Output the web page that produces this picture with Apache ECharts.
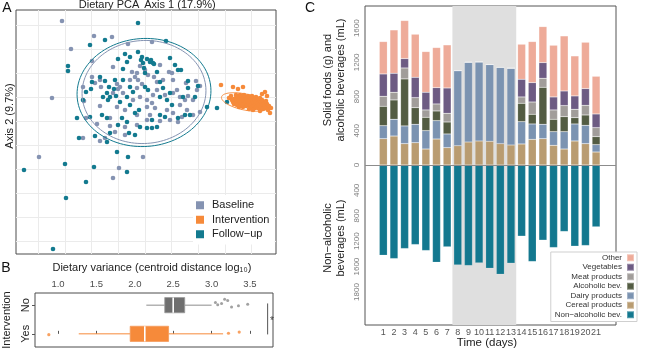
<!DOCTYPE html>
<html><head><meta charset="utf-8">
<script src="https://cdn.jsdelivr.net/npm/echarts@6/dist/echarts.min.js"></script>
<style>html,body{margin:0;padding:0;background:#fff}#c{width:650px;height:351px}</style>
</head><body><div id="c"></div>
<script>
// ---------- Panel A: dietary PCA (unlabelled axes, arbitrary units) ----------
const pcaBaseline = [[-83,100],[-51,85],[-33,84],[-74,72],[-53,60],[-53,44],[-44,34],[-62,34],[7,79],[-17,77],[-5,55],[-32,54],[-13,49],[-8,48],[3,46],[24,49],[27,48],[51,40],[55,35],[-93,23],[-61,20],[-48,-3],[-62,-17],[-45,-20],[-40,-17],[-106,-36],[-2,-36],[-26,-47],[-32,-57],[-50,38],[-45,41],[-25,34],[-28,37],[-10,44],[-7,41],[9,44],[12,39],[18,41],[28,41],[35,24],[41,38],[43,25],[48,21],[52,31],[-32,28],[-27,32],[-22,28],[-8,33],[-5,24],[2,21],[8,26],[12,31],[28,28],[32,31],[40,21],[-45,15],[-28,14],[-20,11],[2,14],[7,18],[10,13],[35,16],[42,11],[-35,-5],[-30,-11],[-20,-6],[-8,6],[2,1],[22,11],[28,8],[37,4],[48,6],[-20,-14],[-8,-4],[15,0],[33,-1],[-35,3],[-3,37],[0,51],[15,56],[-15,41],[20,26],[-12,21],[5,6],[25,1],[-59,3],[55,9]];
const pcaFollowUp = [[-7,98],[-40,81],[-55,76],[21,80],[-77,55],[-77,50],[-53,39],[-45,44],[-40,40],[-54,32],[-59,29],[-36,34],[-31,32],[-38,28],[-42,24],[-30,41],[-20,67],[-15,64],[-27,62],[-7,69],[-3,64],[-4,61],[-2,58],[6,61],[8,58],[25,63],[-22,52],[-1,53],[0,48],[12,49],[33,51],[30,56],[36,51],[43,40],[53,35],[-18,59],[2,62],[5,59],[9,57],[-62,21],[-37,21],[-35,24],[-29,25],[-18,24],[-12,29],[-15,34],[0,34],[3,31],[15,24],[18,33],[22,21],[25,28],[38,24],[43,33],[62,14],[72,13],[-68,3],[-55,4],[-43,6],[-38,3],[-25,19],[-23,3],[-18,-1],[-15,16],[-10,8],[-5,-6],[7,1],[12,-6],[15,6],[20,4],[33,3],[40,6],[45,6],[2,-7],[7,-7],[-16,-12],[-10,-14],[-66,-17],[-50,-15],[-38,-21],[-35,-12],[-28,-31],[-17,-36],[-121,-49],[-80,-43],[-51,-46],[-18,-51],[-59,-61],[-79,-77],[-92,-128],[82,19],[-6,11],[27,16],[-27,-4],[50,24],[15,39],[-22,41]];
const pcaIntervention = [[76,36],[88,34],[93,32],[98,34],[120,29],[117,27],[125,8],[115,10],[84,23],[122,25],[85,23],[87,21],[88,19],[89,22],[90,20],[91,18],[91,23],[92,21],[93,19],[93,24],[94,22],[94,17],[95,20],[95,23],[96,18],[96,21],[97,24],[97,19],[98,22],[98,17],[99,20],[99,23],[100,18],[100,21],[101,24],[101,19],[102,17],[102,22],[103,20],[103,16],[104,23],[104,18],[105,21],[105,15],[106,19],[106,22],[107,17],[107,14],[108,20],[108,23],[109,18],[109,15],[110,21],[110,13],[111,17],[111,19],[112,15],[112,22],[113,18],[113,13],[114,16],[115,20],[116,14],[117,17],[118,12],[119,18],[120,15],[121,13],[122,17],[123,11],[89,17],[92,16],[95,26],[99,26],[103,25],[107,25],[111,24],[115,23],[91,26],[86,25],[101,15],[98,14],[104,12],[108,11],[97,16],[94,14],[117,21],[121,20],[124,15],[126,13]];
// ellipse: [centerX, centerY, radiusX, radiusY, angleDeg]
const ellipseBaseline = [-1, 29, 62, 51.5, 4];
const ellipseFollowUp = [-1, 28.5, 67, 54, 4];
const ellipseIntervention = [100, 19, 24, 8, -12];

// ---------- Panel B: dietary variance ----------
const groupsB = ['Yes', 'No'];
const boxNo  = [2.15, 2.39, 2.50, 2.65, 3.00];   // min, q1, median, q3, max
const boxYes = [1.27, 1.94, 2.13, 2.44, 3.15];
const outliersNoX = [3.05, 3.08, 3.13, 3.17, 3.21, 3.26, 3.35, 3.47];
const outliersNoJitter = [1.09, 1.01, 1.06, 1.21, 1.16, 0.94, 0.98, 1.03];
const outliersYesX = [0.88, 3.22, 3.36];
const outliersYesJitter = [-0.03, 0.02, 0.06];
const varianceTicks = [1.0, 1.5, 2.0, 2.5, 3.0, 3.5];
const signifX = 3.73;

// ---------- Panel C: daily intake ----------
const days = ['1','2','3','4','5','6','7','8','9','10','11','12','13','14','15','16','17','18','19','20','21'];
const cereal     = [308,339,250,261,187,304,203,226,269,281,277,250,234,246,300,308,230,187,281,250,152];
const dairy      = [152,196,207,215,215,215,160,878,933,925,898,893,898,261,180,168,160,203,199,214,86];
const alcoholic  = [227,226,550,195,156,113,140,0,0,0,0,0,0,215,113,433,145,176,74,121,94];
const meat       = [117,90,128,117,86,82,102,0,0,0,0,0,0,74,144,106,109,129,98,113,105];
const vegetables = [261,222,110,238,207,191,296,0,0,0,0,0,0,207,227,183,152,171,156,196,160];
const other      = [379,507,445,504,476,469,504,0,0,0,0,0,0,410,480,421,605,644,468,542,441];
const nonAlcoholic = [1421,1474,1316,1253,1347,1532,1289,1574,1584,1542,1626,1721,1547,1121,1521,1184,1300,1047,1279,1268,974];
const interventionPeriod = [7.5, 13.5];   // in day units
const upperTicks = [0, 400, 800, 1200, 1600];
const lowerTicks = [400, 800, 1200, 1600, 2000];
const lowerTickLabels = ['400', '800', '1200', '1600', '1800'];

// ---------- styling ----------
const FONT = 'Liberation Sans, Arial, sans-serif';
const colBase = '#8593b2', colInt = '#f68a3a', colFol = '#137a8f';
const catColors = {
  'Other': '#eeab99', 'Vegetables': '#6d5b83', 'Meat products': '#a19d9a',
  'Alcoholic bev.': '#535c43', 'Dairy products': '#7b93b1', 'Cereal products': '#b99c71',
  'Non−alcoholic bev.': '#13788f'
};

function ellipseRender(params, api) {
  const cx = api.value(0), cy = api.value(1), rx = api.value(2), ry = api.value(3);
  const a = api.value(4) * Math.PI / 180;
  const pts = [];
  for (let i = 0; i <= 120; i++) {
    const t = i / 120 * 2 * Math.PI;
    const x = cx + rx * Math.cos(t) * Math.cos(a) - ry * Math.sin(t) * Math.sin(a);
    const y = cy + rx * Math.cos(t) * Math.sin(a) + ry * Math.sin(t) * Math.cos(a);
    pts.push(api.coord([x, y]));
  }
  return { type: 'polyline', shape: { points: pts }, style: { fill: null, stroke: api.visual('color'), lineWidth: 1 } };
}

const boxStyles = [
  { fill: colInt, stroke: '#f49a5a', whisker: colInt },
  { fill: '#6f6f6f', stroke: '#999999', whisker: '#8c8c8c' }
];
function boxRender(params, api) {
  const y = api.value(0);
  const p = [1,2,3,4,5].map(k => api.coord([api.value(k), y]));
  const h = 7.6;
  const s = boxStyles[params.dataIndex];
  return { type: 'group', children: [
    { type: 'line', shape: { x1: p[0][0], y1: p[0][1], x2: p[1][0], y2: p[1][1] }, style: { stroke: s.whisker, lineWidth: 1 } },
    { type: 'line', shape: { x1: p[3][0], y1: p[3][1], x2: p[4][0], y2: p[4][1] }, style: { stroke: s.whisker, lineWidth: 1 } },
    { type: 'rect', shape: { x: p[1][0], y: p[1][1] - h, width: p[3][0] - p[1][0], height: 2 * h }, style: { fill: s.fill, stroke: s.stroke, lineWidth: 0.8 } },
    { type: 'line', shape: { x1: p[2][0], y1: p[2][1] - h, x2: p[2][0], y2: p[2][1] + h }, style: { stroke: '#ffffff', lineWidth: 1.6 } }
  ]};
}

const hidden = { show: false };
const chart = echarts.init(document.getElementById('c'), null, { renderer: 'canvas' });

const upperOrder = [
  ['Cereal products', cereal], ['Dairy products', dairy], ['Alcoholic bev.', alcoholic],
  ['Meat products', meat], ['Vegetables', vegetables], ['Other', other]
];
const upperSeries = upperOrder.map(([name, arr]) => ({
  name, type: 'bar', xAxisIndex: 2, yAxisIndex: 2, stack: 'solid', barWidth: 8,
  itemStyle: { color: catColors[name], borderColor: 'rgba(255,255,255,0.3)', borderWidth: 0.5 },
  data: arr
}));

const option = {
  animation: false,
  backgroundColor: '#fff',
  textStyle: { fontFamily: FONT },
  grid: [
    { left: 16, top: 10, width: 260, height: 244, show: true, borderColor: '#4d4d4d', borderWidth: 1, backgroundColor: 'transparent' },
    { left: 35, top: 293, width: 238, height: 54, show: true, borderColor: '#4d4d4d', borderWidth: 1, backgroundColor: 'transparent' },
    { left: 378, top: 6, width: 223.4, height: 159, show: false },
    { left: 378, top: 165, width: 223.4, height: 160, show: false },
    { left: 365, top: 6, width: 251, height: 319, show: true, borderColor: '#555', borderWidth: 1, backgroundColor: 'transparent' }
  ],
  xAxis: [
    { gridIndex: 0, type: 'value', min: -129, max: 131, axisLine: hidden, axisLabel: hidden,
      axisTick: { show: false, customValues: [-106.7, -80, -53.3, -26.7, 0, 26.7, 53.3, 80, 106.7] },
      splitLine: { show: true, lineStyle: { color: '#ebebeb', width: 1 } } },
    { gridIndex: 1, type: 'value', position: 'top', min: 0.70, max: 3.80, axisLine: hidden,
      axisTick: { show: true, length: 3, lineStyle: { color: '#555' }, customValues: varianceTicks },
      axisLabel: { show: true, customValues: varianceTicks, formatter: v => v.toFixed(1), fontSize: 9.5, color: '#4d4d4d', margin: 4, fontFamily: FONT },
      splitLine: hidden },
    { gridIndex: 2, type: 'category', data: days, axisLabel: hidden, axisTick: hidden, splitLine: hidden, axisLine: hidden },
    { gridIndex: 3, type: 'category', data: days, axisLine: hidden, splitLine: hidden,
      axisTick: { show: true, alignWithLabel: true, length: 3, lineStyle: { color: '#555' } },
      axisLabel: { show: true, interval: 0, fontSize: 9, color: '#555', margin: 3, fontFamily: FONT } },
    { gridIndex: 4, type: 'value', min: -0.72, max: 22.88, show: false }
  ],
  yAxis: [
    { gridIndex: 0, type: 'value', min: -133, max: 111, axisLine: hidden, axisLabel: hidden,
      axisTick: { show: false, customValues: [96, 72, 48, 24, 0, -24, -48, -72, -96, -120] },
      splitLine: { show: true, lineStyle: { color: '#ebebeb', width: 1 } } },
    { gridIndex: 1, type: 'value', min: -0.459, max: 1.424, axisLine: hidden, splitLine: hidden,
      axisTick: { show: true, length: 3, lineStyle: { color: '#555' }, customValues: [0, 1] },
      axisLabel: { show: true, customValues: [0, 1], formatter: v => groupsB[Math.round(v)], rotate: 90, fontSize: 11, color: '#222', margin: 4, fontFamily: FONT } },
    { gridIndex: 2, type: 'value', min: 0, max: 1860, axisLine: hidden, splitLine: hidden,
      axisTick: { show: false, customValues: upperTicks },
      axisLabel: { show: true, customValues: upperTicks, formatter: v => String(v), rotate: 90, fontSize: 8, color: '#808080', margin: 17, fontFamily: FONT } },
    { gridIndex: 3, type: 'value', min: 0, max: 2520, inverse: true, axisLine: hidden, splitLine: hidden,
      axisTick: { show: false, customValues: lowerTicks },
      axisLabel: { show: true, customValues: lowerTicks, rotate: 90, fontSize: 8, color: '#808080', margin: 17, fontFamily: FONT,
        formatter: v => lowerTickLabels[lowerTicks.indexOf(v)] } },
    // frame axis: signed height in px-like units, 0 = zero baseline between the two panels
    { gridIndex: 4, type: 'value', min: -160, max: 159, show: false }
  ],
  legend: [
    { data: ['Baseline', 'Intervention', 'Follow−up'], orient: 'vertical', left: 193, top: 195,
      icon: 'rect', itemWidth: 8, itemHeight: 8, itemGap: 0, padding: [3, 5, 3, 3], backgroundColor: '#fff',
      textStyle: { fontSize: 11, color: '#222', lineHeight: 14.5, fontFamily: FONT, padding: [0, 0, 0, 3] }, selectedMode: false },
    { data: ['Other', 'Vegetables', 'Meat products', 'Alcoholic bev.', 'Dairy products', 'Cereal products', 'Non−alcoholic bev.'],
      orient: 'vertical', right: 13, top: 252, align: 'right', icon: 'rect', itemWidth: 7, itemHeight: 7, itemGap: 0,
      padding: [1, 2, 2, 4], backgroundColor: '#fff', borderColor: '#cfcfcf', borderWidth: 1,
      textStyle: { fontSize: 8, color: '#333', lineHeight: 9.5, fontFamily: FONT }, selectedMode: false }
  ],
  series: [
    // Panel A
    { name: 'Baseline', type: 'scatter', xAxisIndex: 0, yAxisIndex: 0, symbolSize: 4.6, itemStyle: { color: colBase, opacity: 1 }, data: pcaBaseline },
    { name: 'Follow−up', type: 'scatter', xAxisIndex: 0, yAxisIndex: 0, symbolSize: 4.6, itemStyle: { color: colFol, opacity: 1 }, data: pcaFollowUp },
    { name: 'Intervention', type: 'scatter', xAxisIndex: 0, yAxisIndex: 0, symbolSize: 4.6, itemStyle: { color: colInt, opacity: 1 }, data: pcaIntervention },
    { name: 'ellB', type: 'custom', xAxisIndex: 0, yAxisIndex: 0, renderItem: ellipseRender, itemStyle: { color: colBase }, data: [ellipseBaseline], encode: { x: 0, y: 1 }, z: 4 },
    { name: 'ellF', type: 'custom', xAxisIndex: 0, yAxisIndex: 0, renderItem: ellipseRender, itemStyle: { color: colFol }, data: [ellipseFollowUp], encode: { x: 0, y: 1 }, z: 4 },
    { name: 'ellI', type: 'custom', xAxisIndex: 0, yAxisIndex: 0, renderItem: ellipseRender, itemStyle: { color: colInt }, data: [ellipseIntervention], encode: { x: 0, y: 1 }, z: 4 },
    // Panel B
    { name: 'boxes', type: 'custom', xAxisIndex: 1, yAxisIndex: 1, renderItem: boxRender,
      data: [[0, ...boxYes], [1, ...boxNo]], encode: { x: [1, 2, 3, 4, 5], y: 0 } },
    { name: 'outNo', type: 'scatter', xAxisIndex: 1, yAxisIndex: 1, symbolSize: 3, itemStyle: { color: '#8a8a8a' },
      data: outliersNoX.map((x, i) => [x, outliersNoJitter[i]]) },
    { name: 'outYes', type: 'scatter', xAxisIndex: 1, yAxisIndex: 1, symbolSize: 3.2, itemStyle: { color: colInt },
      data: outliersYesX.map((x, i) => [x, outliersYesJitter[i]]) },
    { name: 'bracket', type: 'line', xAxisIndex: 1, yAxisIndex: 1, symbol: 'none', lineStyle: { color: '#555', width: 1 },
      data: [[signifX, 1.06], [signifX, -0.02]] },
    { name: 'star', type: 'scatter', xAxisIndex: 1, yAxisIndex: 1, symbolSize: 0,
      label: { show: true, formatter: '*', color: '#111', fontSize: 10, position: 'inside', fontFamily: FONT }, data: [[3.785, 0.45]] },
    // Panel C shading + zero line on frame axis
    { name: 'shade', type: 'line', xAxisIndex: 4, yAxisIndex: 4, data: [], z: 1,
      markArea: { silent: true, itemStyle: { color: '#dfdfdf' }, data: [[{ xAxis: interventionPeriod[0] }, { xAxis: interventionPeriod[1] }]] },
      markLine: { silent: true, symbol: 'none', label: { show: false }, lineStyle: { color: '#8c8c8c', width: 1, type: 'solid' }, data: [{ yAxis: 0 }] } },
    ...upperSeries,
    { name: 'Non−alcoholic bev.', type: 'bar', xAxisIndex: 3, yAxisIndex: 3, barWidth: 8,
      itemStyle: { color: catColors['Non−alcoholic bev.'], borderColor: 'rgba(255,255,255,0.3)', borderWidth: 0.5 },
      data: nonAlcoholic }
  ],
  graphic: [
    { type: 'text', x: 7, y: 8, style: { text: 'A', fontSize: 14, fill: '#111', fontFamily: FONT, align: 'center', verticalAlign: 'middle' } },
    { type: 'text', x: 109, y: 5, style: { text: 'Dietary PCA', fontSize: 11, fill: '#222', fontFamily: FONT, align: 'center', verticalAlign: 'middle' } },
    { type: 'text', x: 180, y: 5, style: { text: 'Axis 1 (17.9%)', fontSize: 11, fill: '#222', fontFamily: FONT, align: 'center', verticalAlign: 'middle' } },
    { type: 'text', x: 10, y: 116, rotation: Math.PI / 2, style: { text: 'Axis 2 (9.7%)', fontSize: 11, fill: '#222', fontFamily: FONT, align: 'center', verticalAlign: 'middle' } },
    { type: 'text', x: 6, y: 268, style: { text: 'B', fontSize: 14, fill: '#111', fontFamily: FONT, align: 'center', verticalAlign: 'middle' } },
    { type: 'text', x: 152, y: 268, style: { text: 'Dietary variance (centroid distance log₁₀)', fontSize: 11, fill: '#222', fontFamily: FONT, align: 'center', verticalAlign: 'middle' } },
    { type: 'text', x: 7, y: 320, rotation: Math.PI / 2, style: { text: 'Intervention', fontSize: 11, fill: '#222', fontFamily: FONT, align: 'center', verticalAlign: 'middle' } },
    { type: 'text', x: 310, y: 8, style: { text: 'C', fontSize: 14, fill: '#111', fontFamily: FONT, align: 'center', verticalAlign: 'middle' } },
    { type: 'text', x: 334, y: 80, rotation: Math.PI / 2, style: { text: 'Solid foods (g) and\nalcoholic beverages (mL)', fontSize: 11, lineHeight: 13, fill: '#222', fontFamily: FONT, align: 'center', verticalAlign: 'middle' } },
    { type: 'text', x: 334, y: 238, rotation: Math.PI / 2, style: { text: 'Non−alcoholic\nbeverages (mL)', fontSize: 11, lineHeight: 13, fill: '#222', fontFamily: FONT, align: 'center', verticalAlign: 'middle' } },
    { type: 'text', x: 487, y: 343, style: { text: 'Time (days)', fontSize: 11.5, fill: '#222', fontFamily: FONT, align: 'center', verticalAlign: 'middle' } }
  ]
};
chart.setOption(option);
</script></body></html>
